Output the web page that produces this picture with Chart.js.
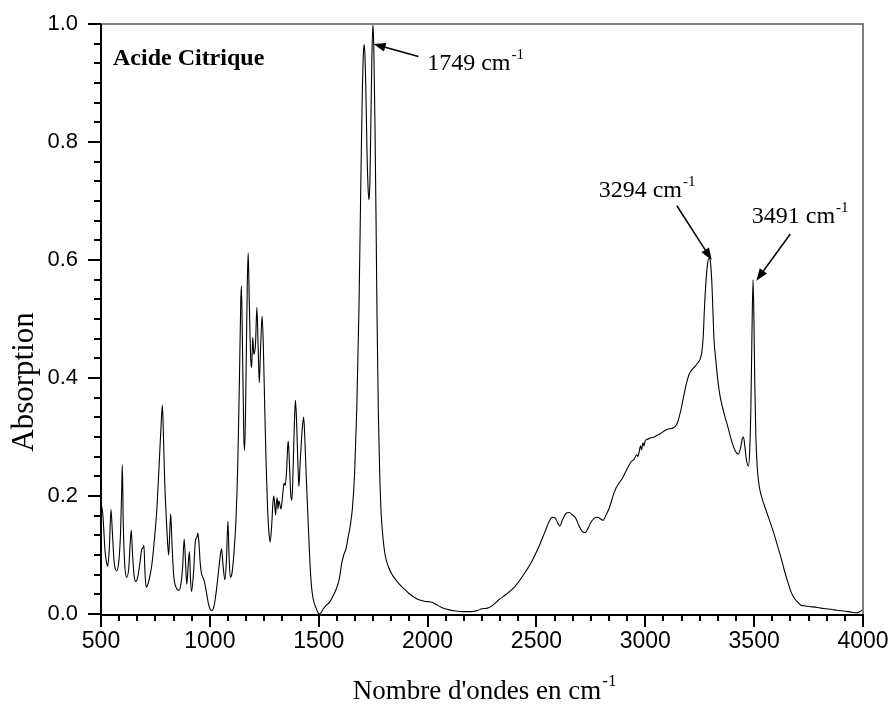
<!DOCTYPE html>
<html><head><meta charset="utf-8">
<script src="https://cdn.jsdelivr.net/npm/chart.js@4.4.1/dist/chart.umd.min.js"></script>
<style>html,body{margin:0;padding:0;background:#fff}</style>
</head><body>
<canvas id="c" width="890" height="709"></canvas>
<script>
// ---------- DATA ----------
const wavenumbers = [500,504,510,518,525,531,538,546,552,560,572,582,590,595,598,602,608,618,628,634,639,645,652,660,670,680,688,693,697,702,708,715,725,734,745,757,768,776,782,787,793,799,806,811,816,820,826,834,845,857,867,875,882,888,894,900,906,911,916,925,934,940,945,950,956,962,968,975,985,995,1003,1010,1020,1030,1042,1050,1054,1060,1069,1076,1083,1088,1094,1102,1112,1120,1128,1136,1142,1145,1150,1156,1160,1166,1172,1176,1181,1188,1192,1197,1202,1206,1210,1216,1222,1227,1233,1240,1246,1252,1258,1265,1271,1277,1284,1290,1294,1298,1302,1306,1309,1313,1317,1322,1327,1334,1341,1346,1352,1357,1360,1365,1372,1377,1382,1388,1393,1398,1404,1409,1414,1420,1426,1431,1436,1442,1450,1458,1466,1475,1488,1497,1503,1510,1520,1535,1550,1565,1580,1595,1605,1615,1625,1635,1645,1655,1665,1675,1685,1693,1700,1704,1708,1712,1717,1722,1727,1731,1735,1739,1744,1749,1753,1758,1763,1768,1774,1780,1787,1795,1805,1820,1840,1860,1880,1900,1920,1940,1960,1980,2000,2020,2040,2060,2080,2100,2130,2160,2200,2230,2250,2275,2300,2330,2360,2400,2440,2480,2510,2540,2560,2572,2585,2597,2607,2620,2635,2650,2665,2681,2695,2710,2724,2738,2750,2765,2781,2795,2807,2820,2835,2850,2865,2880,2896,2915,2935,2950,2960,2966,2972,2978,2983,2989,2994,3000,3010,3020,3030,3040,3055,3071,3090,3110,3132,3145,3155,3166,3178,3190,3201,3212,3224,3240,3252,3260,3266,3272,3279,3286,3292,3297,3302,3306,3311,3316,3324,3332,3343,3355,3367,3378,3390,3401,3414,3427,3438,3446,3451,3457,3465,3474,3480,3485,3489,3495,3499,3503,3508,3514,3522,3531,3545,3561,3577,3592,3608,3623,3638,3654,3669,3684,3700,3715,3730,3746,3770,3790,3807,3830,3850,3868,3890,3910,3929,3950,3968,3985,4000];
const absorbance = [0.175,0.182,0.16,0.11,0.088,0.081,0.11,0.177,0.14,0.09,0.073,0.09,0.14,0.21,0.253,0.16,0.09,0.062,0.08,0.12,0.142,0.1,0.065,0.055,0.065,0.09,0.111,0.112,0.117,0.07,0.045,0.05,0.065,0.085,0.125,0.18,0.26,0.32,0.354,0.3,0.22,0.17,0.12,0.1,0.14,0.17,0.12,0.065,0.045,0.04,0.05,0.08,0.127,0.09,0.05,0.08,0.106,0.06,0.038,0.07,0.125,0.13,0.137,0.12,0.085,0.068,0.062,0.055,0.035,0.015,0.007,0.006,0.015,0.04,0.08,0.105,0.11,0.085,0.058,0.09,0.157,0.1,0.062,0.07,0.11,0.16,0.25,0.4,0.53,0.556,0.45,0.3,0.277,0.4,0.56,0.612,0.53,0.43,0.418,0.469,0.44,0.444,0.46,0.52,0.45,0.392,0.45,0.505,0.45,0.35,0.26,0.18,0.14,0.122,0.15,0.19,0.2,0.185,0.168,0.19,0.197,0.178,0.192,0.185,0.178,0.2,0.222,0.218,0.24,0.28,0.293,0.26,0.2,0.193,0.24,0.32,0.362,0.33,0.26,0.216,0.25,0.29,0.32,0.334,0.3,0.24,0.17,0.1,0.05,0.025,0.01,0.002,0.0,0.002,0.008,0.015,0.02,0.03,0.042,0.06,0.085,0.1,0.11,0.13,0.15,0.18,0.24,0.35,0.52,0.72,0.88,0.94,0.965,0.95,0.88,0.78,0.72,0.702,0.73,0.82,0.94,1.0,0.96,0.84,0.68,0.5,0.34,0.24,0.17,0.13,0.1,0.08,0.065,0.055,0.047,0.04,0.033,0.028,0.024,0.022,0.021,0.02,0.016,0.012,0.009,0.007,0.005,0.004,0.004,0.006,0.009,0.01,0.015,0.025,0.033,0.046,0.066,0.09,0.113,0.14,0.158,0.164,0.163,0.155,0.149,0.16,0.17,0.172,0.168,0.162,0.15,0.14,0.138,0.146,0.155,0.162,0.164,0.161,0.159,0.168,0.18,0.198,0.213,0.222,0.231,0.245,0.258,0.263,0.27,0.267,0.275,0.285,0.278,0.29,0.285,0.294,0.296,0.298,0.299,0.3,0.303,0.306,0.311,0.314,0.316,0.322,0.333,0.35,0.372,0.392,0.406,0.413,0.418,0.425,0.432,0.445,0.47,0.52,0.565,0.593,0.603,0.602,0.585,0.56,0.51,0.463,0.43,0.4,0.37,0.35,0.333,0.319,0.302,0.288,0.276,0.271,0.282,0.298,0.3,0.285,0.26,0.251,0.28,0.35,0.45,0.567,0.5,0.39,0.3,0.25,0.22,0.203,0.186,0.169,0.152,0.135,0.115,0.096,0.075,0.055,0.038,0.027,0.02,0.015,0.014,0.013,0.012,0.011,0.01,0.009,0.008,0.007,0.006,0.005,0.004,0.003,0.002,0.004,0.008];
const xTickLabels = [500,1000,1500,2000,2500,3000,3500,4000];
const yTickLabels = [0.0,0.2,0.4,0.6,0.8,1.0];
const peakLabels = ['1749', '3294', '3491'];
const chartTitle = 'Acide Citrique';
const xTitle = "Nombre d'ondes en cm";
const yTitle = 'Absorption';

// ---------- LAYOUT / STYLE ----------
const AREA = {left:101, top:24, right:863, bottom:614, W:890, H:709};
const serif = "'Liberation Serif','Times New Roman',serif";
const sans = "'Liberation Sans',Arial,sans-serif";
// annotation placement in data units: text anchor, arrow tail, arrow head
const peakPlacement = [
  {tx:1998, ty:0.922, ax:1958, ay:0.945, hx:1752, hy:0.966},
  {tx:2786, ty:0.706, ax:3145, ay:0.692, hx:3305, hy:0.600},
  {tx:3489, ty:0.662, ax:3666, ay:0.644, hx:3510, hy:0.565}
];

const points = wavenumbers.map((w,i)=>({x:w, y:absorbance[i]}));

function supText(ctx, main, x, y, size){
  ctx.font = size + 'px ' + serif;
  ctx.textAlign = 'left'; ctx.textBaseline = 'alphabetic';
  ctx.fillText(main, x, y);
  const w = ctx.measureText(main).width;
  ctx.font = Math.round(size*0.62) + 'px ' + serif;
  ctx.fillText('-1', x + w + 1, y - size*0.48);
}

const decor = {
  id:'decor',
  afterDraw(chart){
    const ctx = chart.ctx, xs = chart.scales.x, ys = chart.scales.y, a = chart.chartArea;
    ctx.save();
    // frame top/right
    ctx.strokeStyle = '#808080'; ctx.lineWidth = 2;
    ctx.beginPath(); ctx.moveTo(a.left, a.top); ctx.lineTo(a.right, a.top); ctx.lineTo(a.right, a.bottom); ctx.stroke();
    // axes
    ctx.strokeStyle = '#000'; ctx.lineWidth = 2;
    ctx.beginPath(); ctx.moveTo(a.left, a.top); ctx.lineTo(a.left, a.bottom+1); ctx.lineTo(a.right, a.bottom+1); ctx.stroke();
    // x ticks: major every 500, 5 minors between
    ctx.lineWidth = 2;
    for (let k=0; k<=42; k++){
      const v = 500 + k*500/6;
      const px = Math.round(xs.getPixelForValue(v));
      const len = (k%6===0) ? 13 : 7;
      ctx.beginPath(); ctx.moveTo(px, a.bottom); ctx.lineTo(px, a.bottom+len); ctx.stroke();
    }
    for (let k=0; k<=30; k++){
      const v = k*0.2/6;
      const py = Math.round(ys.getPixelForValue(v));
      const len = (k%6===0) ? 13 : 7;
      ctx.beginPath(); ctx.moveTo(a.left, py); ctx.lineTo(a.left-len, py); ctx.stroke();
    }
    // titles
    ctx.fillStyle = '#000';
    ctx.font = '27px ' + serif;
    const tw = ctx.measureText(xTitle).width;
    supText(ctx, xTitle, (a.left+a.right)/2 - (tw+10)/2, 699, 27);
    ctx.save();
    ctx.translate(33, 382); ctx.rotate(-Math.PI/2);
    ctx.font = '31px ' + serif; ctx.textAlign='center'; ctx.textBaseline='alphabetic';
    ctx.fillText(yTitle, 0, 0);
    ctx.restore();
    // chart label
    ctx.font = 'bold 24px ' + serif; ctx.textAlign='left'; ctx.textBaseline='alphabetic';
    ctx.fillText(chartTitle, xs.getPixelForValue(555), ys.getPixelForValue(0.93));
    // peak annotations
    peakLabels.forEach((lab,i)=>{
      const p = peakPlacement[i];
      supText(ctx, lab + ' cm', xs.getPixelForValue(p.tx), ys.getPixelForValue(p.ty), 24);
      const x1 = xs.getPixelForValue(p.ax), y1 = ys.getPixelForValue(p.ay);
      const x2 = xs.getPixelForValue(p.hx), y2 = ys.getPixelForValue(p.hy);
      ctx.strokeStyle='#000'; ctx.lineWidth=1.5;
      const ang = Math.atan2(y2-y1, x2-x1);
      const hl = 12, hw = 4.5;
      const bx = x2 - hl*Math.cos(ang), by = y2 - hl*Math.sin(ang);
      ctx.beginPath(); ctx.moveTo(x1,y1); ctx.lineTo(bx,by); ctx.stroke();
      ctx.beginPath(); ctx.moveTo(x2,y2);
      ctx.lineTo(bx + hw*Math.sin(ang), by - hw*Math.cos(ang));
      ctx.lineTo(bx - hw*Math.sin(ang), by + hw*Math.cos(ang));
      ctx.closePath(); ctx.fill();
    });
    ctx.restore();
  }
};

new Chart(document.getElementById('c'), {
  type:'line',
  data:{datasets:[{data:points, borderColor:'#000', borderWidth:1.1, pointRadius:0, fill:false, tension:0, cubicInterpolationMode:'monotone'}]},
  options:{
    responsive:false, animation:false, devicePixelRatio:1,
    layout:{padding:{left:0, top:AREA.top, right:AREA.W-AREA.right, bottom:0}},
    plugins:{legend:{display:false}, tooltip:{enabled:false}},
    scales:{
      x:{type:'linear', min:500, max:4000,
        afterBuildTicks(s){ s.ticks = xTickLabels.map(v=>({value:v})); },
        afterFit(s){ s.height = AREA.H - AREA.bottom; s.paddingLeft = 0; s.paddingRight = 0; },
        grid:{display:false, drawTicks:false}, border:{display:false},
        ticks:{color:'#000', font:{family:sans, size:23}, padding:14, maxRotation:0, autoSkip:false, callback:v=>String(v)}},
      y:{type:'linear', min:0, max:1,
        afterBuildTicks(s){ s.ticks = yTickLabels.map(v=>({value:v})); },
        afterFit(s){ s.width = AREA.left; s.paddingTop = 0; s.paddingBottom = 0; },
        grid:{display:false, drawTicks:false}, border:{display:false},
        ticks:{color:'#000', font:{family:sans, size:22}, padding:23, callback:v=>Number(v).toFixed(1)}}
    }
  },
  plugins:[decor]
});
</script>
</body></html>
